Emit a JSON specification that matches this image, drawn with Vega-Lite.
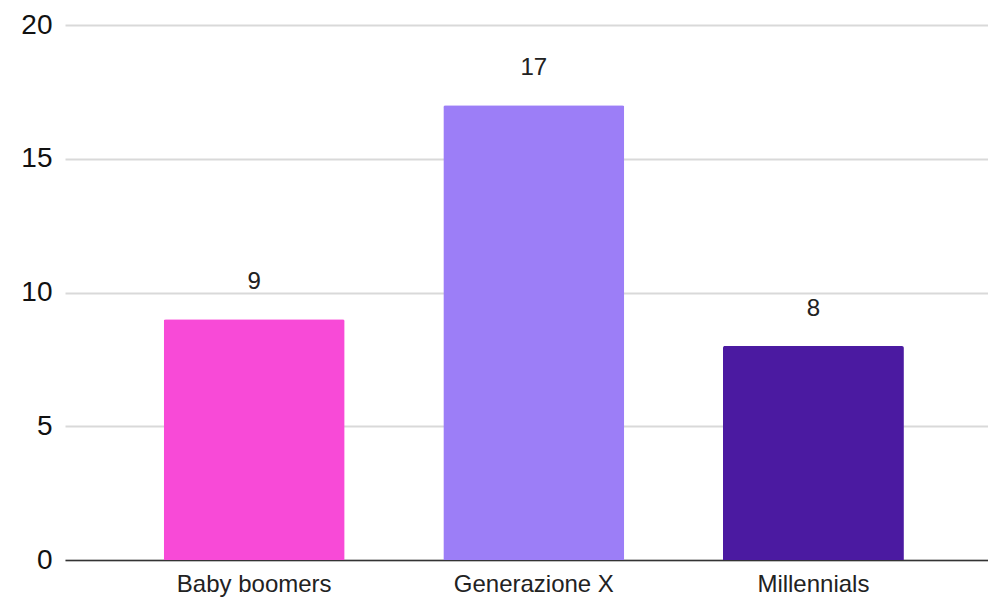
{
  "$schema": "https://vega.github.io/schema/vega-lite/v6.json",
  "width": 923,
  "height": 535,
  "autosize": {"type": "none"},
  "padding": {"left": 65, "top": 25, "right": 0, "bottom": 39},
  "background": "white",
  "config": {
    "view": {"stroke": null},
    "font": "Liberation Sans"
  },
  "data": {
    "values": [
      {"gruppo": "Baby boomers", "valore": 9},
      {"gruppo": "Generazione X", "valore": 17},
      {"gruppo": "Millennials", "valore": 8}
    ]
  },
  "encoding": {
    "x": {
      "field": "gruppo",
      "type": "nominal",
      "sort": null,
      "scale": {"paddingInner": 0.3527, "paddingOuter": 0.327, "align": 0.54},
      "axis": {
        "title": null,
        "labelAngle": 0,
        "labelFontSize": 24,
        "labelColor": "#222222",
        "labelPadding": 12,
        "ticks": false,
        "domainColor": "#333333",
        "domainWidth": 1.5,
        "grid": false
      }
    },
    "y": {
      "field": "valore",
      "type": "quantitative",
      "scale": {"domain": [0, 20], "nice": false},
      "axis": {
        "title": null,
        "values": [0, 5, 10, 15, 20],
        "labelFontSize": 28,
        "labelColor": "#111111",
        "labelPadding": 13,
        "ticks": false,
        "domain": false,
        "grid": true,
        "gridColor": "#d9d9d9",
        "gridWidth": 2
      }
    }
  },
  "layer": [
    {
      "mark": {"type": "bar", "cornerRadiusTopLeft": 2, "cornerRadiusTopRight": 2},
      "encoding": {
        "color": {
          "field": "gruppo",
          "type": "nominal",
          "sort": null,
          "scale": {
            "domain": ["Baby boomers", "Generazione X", "Millennials"],
            "range": ["#F84AD7", "#9C7EF7", "#4B1AA1"]
          },
          "legend": null
        }
      }
    },
    {
      "mark": {
        "type": "text",
        "baseline": "alphabetic",
        "dy": -30,
        "fontSize": 24,
        "color": "#222222",
        "stroke": "white",
        "strokeWidth": 3,
        "strokeOpacity": 0.9
      },
      "encoding": {"text": {"field": "valore", "type": "quantitative"}}
    },
    {
      "mark": {
        "type": "text",
        "baseline": "alphabetic",
        "dy": -30,
        "fontSize": 24,
        "color": "#222222"
      },
      "encoding": {"text": {"field": "valore", "type": "quantitative"}}
    }
  ]
}
